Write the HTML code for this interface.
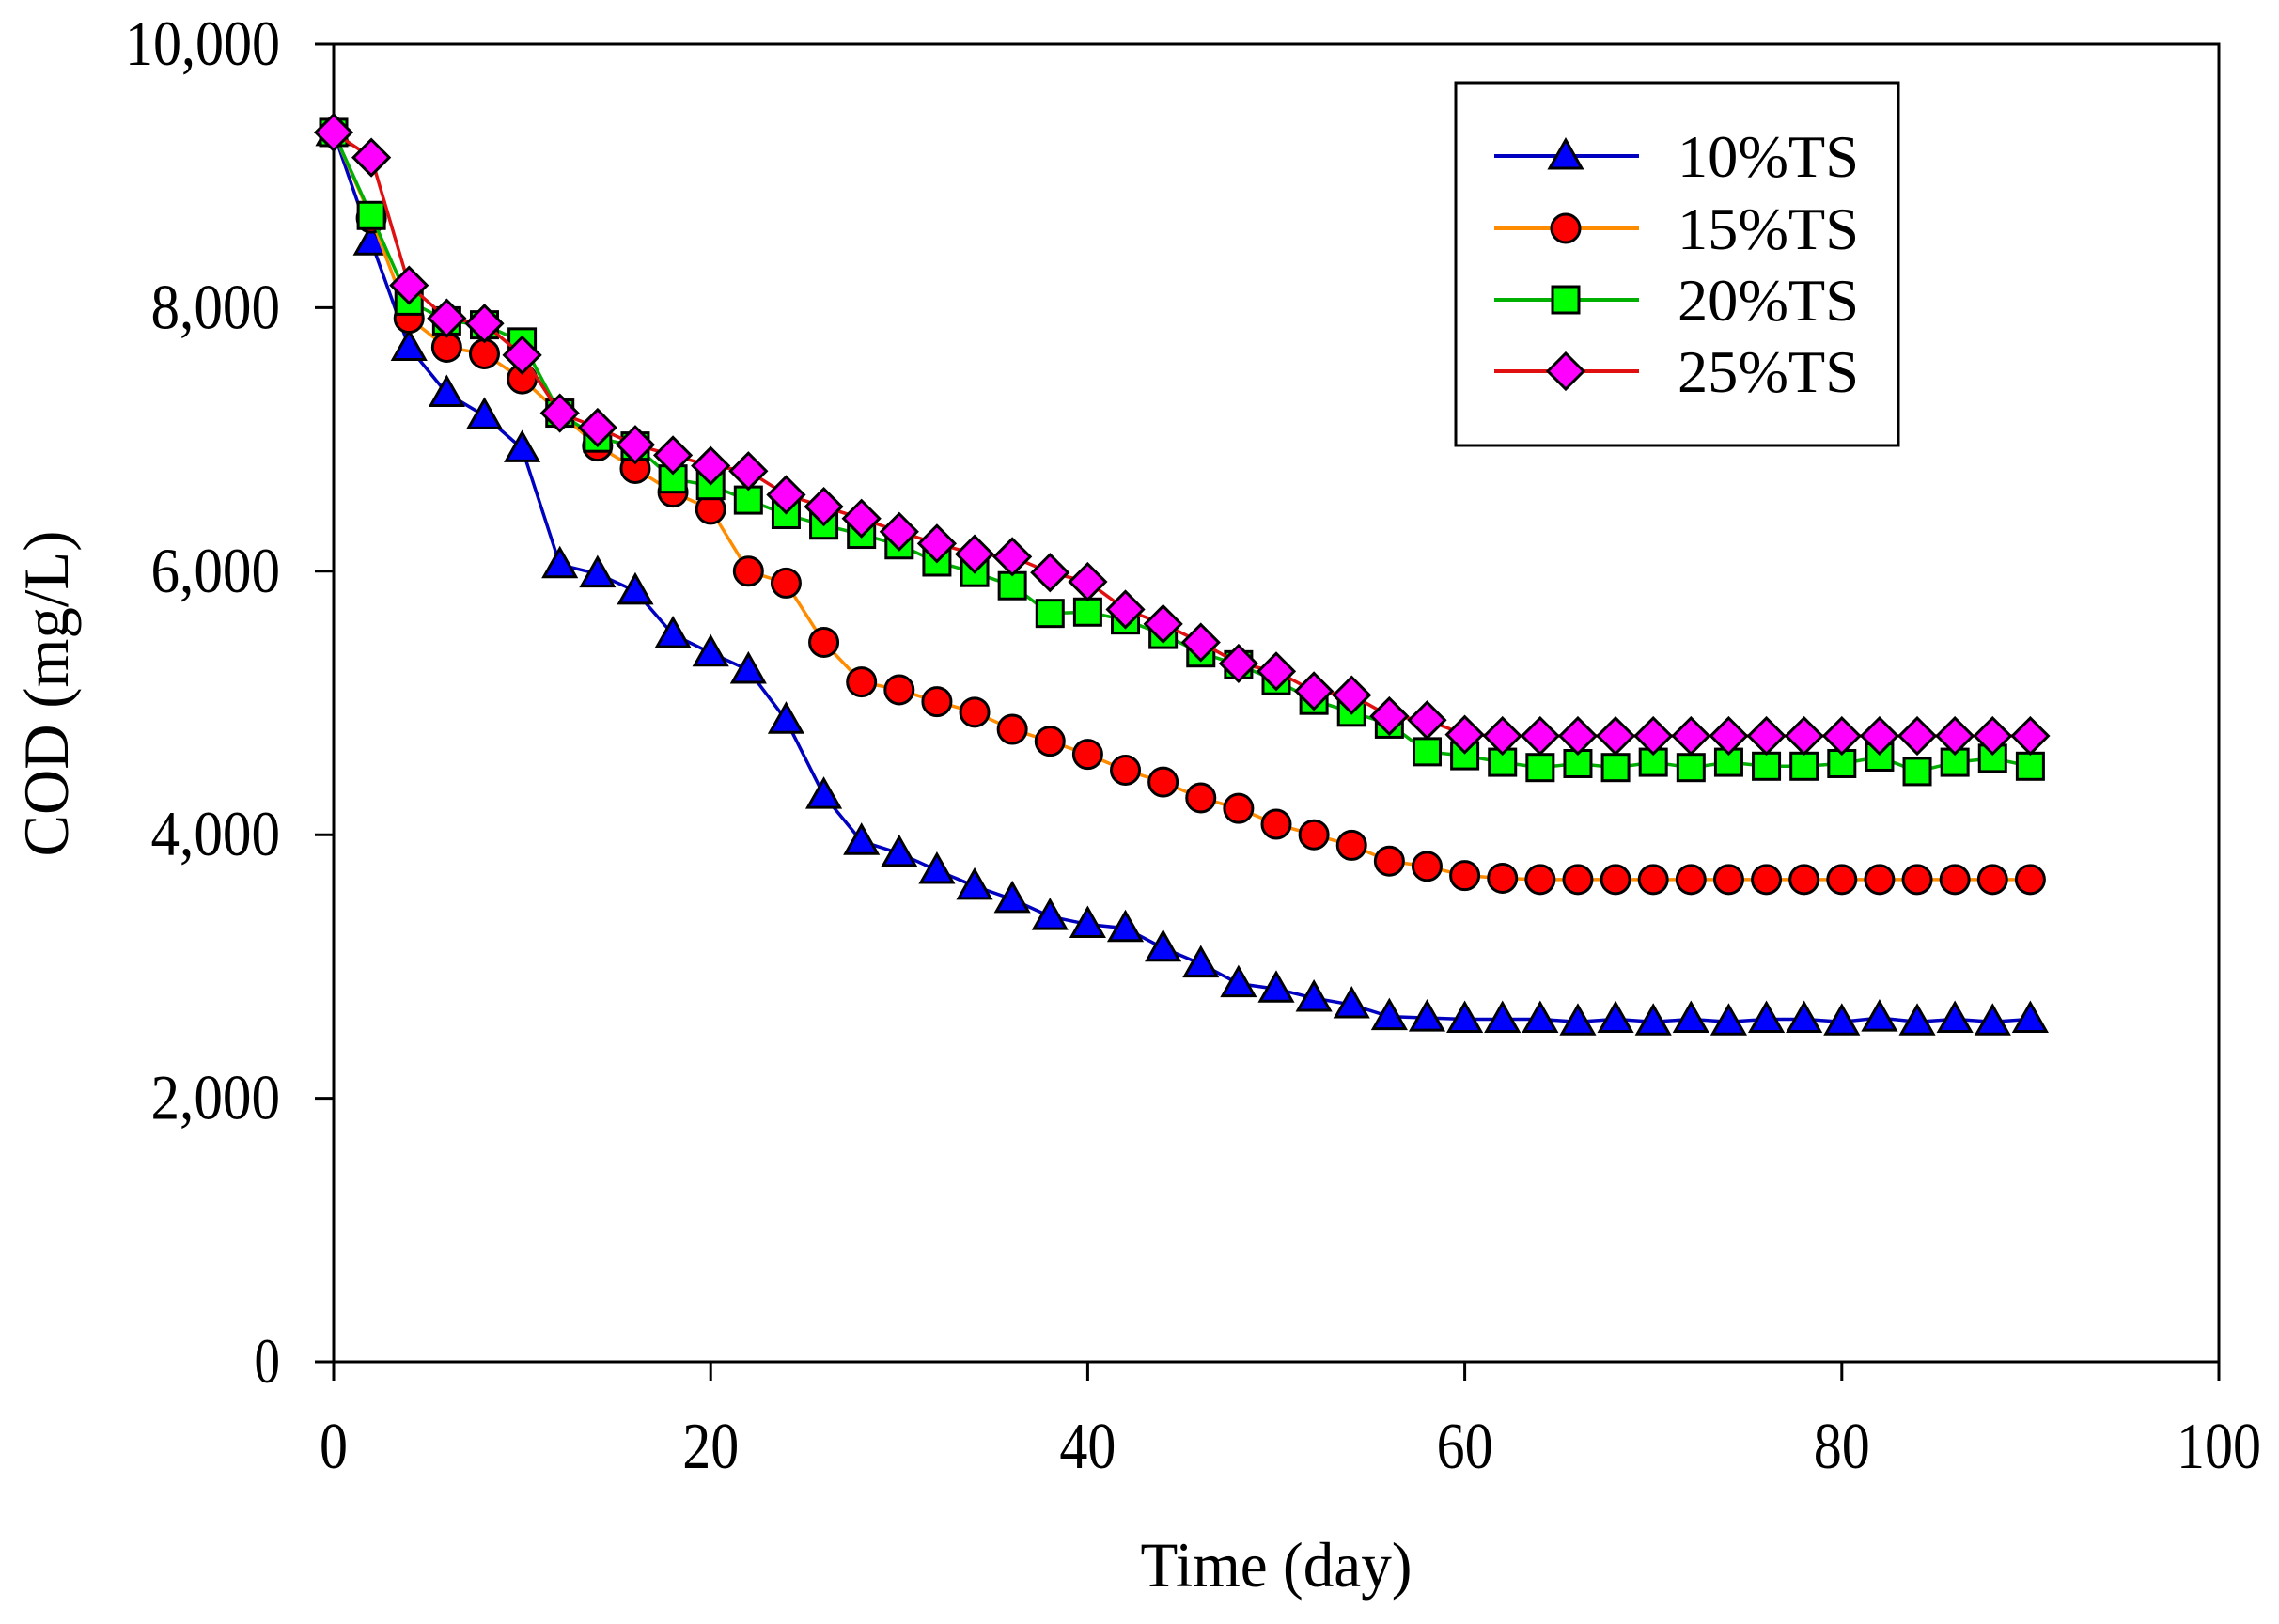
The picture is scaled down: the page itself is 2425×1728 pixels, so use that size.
<!DOCTYPE html>
<html><head><meta charset="utf-8"><style>
html,body{margin:0;padding:0;background:#fff;}
svg{display:block;font-family:"Liberation Serif",serif;}
</style></head><body>
<svg id="chart" width="2425" height="1728" viewBox="0 0 2425 1728" xmlns="http://www.w3.org/2000/svg">
<rect width="2425" height="1728" fill="#fff"/>
<g id="plot"></g>
</svg>
<script>
const days = [0,2,4,6,8,10,12,14,16,18,20,22,24,26,28,30,32,34,36,38,40,42,44,46,48,50,52,54,56,58,60,62,64,66,68,70,72,74,76,78,80,82,84,86,88,90];
const ts10 = [9330,8500,7700,7350,7180,6930,6050,5980,5850,5520,5380,5250,4870,4300,3950,3860,3730,3610,3510,3380,3320,3290,3140,3020,2870,2830,2760,2710,2620,2610,2600,2600,2600,2580,2600,2580,2600,2580,2600,2600,2580,2610,2580,2600,2580,2600];
const ts15 = [9330,8680,7920,7700,7650,7460,7200,6950,6780,6600,6470,6000,5910,5460,5160,5100,5010,4930,4800,4710,4610,4490,4400,4280,4200,4080,4000,3920,3800,3760,3690,3670,3660,3660,3660,3660,3660,3660,3660,3660,3660,3660,3660,3660,3660,3660];
const ts20 = [9330,8700,8050,7900,7870,7740,7200,7010,6950,6700,6650,6540,6430,6350,6280,6200,6070,5990,5890,5680,5690,5630,5520,5380,5290,5170,5020,4930,4840,4630,4600,4550,4510,4540,4510,4550,4510,4550,4520,4520,4540,4590,4480,4550,4580,4520];
const ts25 = [9330,9140,8170,7920,7880,7640,7200,7090,6960,6880,6800,6760,6580,6490,6400,6300,6210,6130,6110,5990,5920,5710,5600,5460,5300,5240,5090,5060,4900,4870,4760,4750,4750,4750,4750,4750,4750,4750,4750,4750,4750,4750,4750,4750,4750,4750];
const xTicks = [0,20,40,60,80,100];
const yTicks = [0,2000,4000,6000,8000,10000];
const yTickLabels = ["0","2,000","4,000","6,000","8,000","10,000"];
const seriesNames = ["10%TS","15%TS","20%TS","25%TS"];

const L=355, R=2361, T=47, B=1449;
const xs = d => L + (d/100)*(R-L);
const ys = v => B - (v/10000)*(B-T);
const NS="http://www.w3.org/2000/svg";
const g=document.getElementById('plot');
function mk(tag,attrs,parent){const e=document.createElementNS(NS,tag);for(const k in attrs)e.setAttribute(k,attrs[k]);(parent||g).appendChild(e);return e;}

let fr=mk('rect',{x:L,y:T,width:R-L,height:B-T,fill:'none',stroke:'#000','stroke-width':3});



xTicks.forEach(t=>{
  let tk=mk('line',{x1:xs(t),x2:xs(t),y1:B,y2:B+20,stroke:'#000','stroke-width':3});
  
  
  const s=String(t);
  let tx=mk('text',{x:xs(t),y:1562,'text-anchor':'middle','font-size':70,textLength:s.length*30,lengthAdjust:'spacingAndGlyphs'});
  tx.textContent=s;
  
  
});
yTicks.forEach((t,i)=>{
  let tk=mk('line',{x1:L-20,x2:L,y1:ys(t),y2:ys(t),stroke:'#000','stroke-width':3});
  
  
  const s=yTickLabels[i];
  let tx=mk('text',{x:298,y:ys(t)+22,'text-anchor':'end','font-size':68,textLength:s.length*27.5,lengthAdjust:'spacingAndGlyphs'});
  tx.textContent=s;
  
  
});
let xt=mk('text',{x:1358,y:1688,'text-anchor':'middle','font-size':68,textLength:289,lengthAdjust:'spacingAndGlyphs'});
xt.textContent='Time (day)';


let yt=mk('text',{x:0,y:0,'text-anchor':'middle','font-size':68,textLength:347,lengthAdjust:'spacingAndGlyphs',transform:'translate(72,738) rotate(-90)'});
yt.textContent='COD (mg/L)';



const lineColors=['#0000c0','#ff8c00','#00b000','#e01010'];
const fills=['#0000ff','#ff0000','#00ff00','#ff00ff'];
const data=[ts10,ts15,ts20,ts25];
function marker(type,x,y,fill,parent){
  let e;
  if(type===0){e=mk('polygon',{points:`${x},${y-17} ${x-17},${y+13} ${x+17},${y+13}`},parent);}
  else if(type===1){e=mk('circle',{cx:x,cy:y,r:15},parent);}
  else if(type===2){e=mk('rect',{x:x-14,y:y-14,width:28,height:28},parent);}
  else {e=mk('polygon',{points:`${x},${y-19} ${x+19},${y} ${x},${y+19} ${x-19},${y}`},parent);}
  e.setAttribute('fill',fill);e.setAttribute('stroke','#000');e.setAttribute('stroke-width',3);
  return e;
}
data.forEach((arr,si)=>{
  const sg=mk('g',{});
  
  
  let pl=mk('polyline',{points:arr.map((v,i)=>xs(days[i])+','+ys(v)).join(' '),fill:'none',stroke:lineColors[si],'stroke-width':3.5},sg);
  
  
  arr.forEach((v,i)=>{
    const m=marker(si,xs(days[i]),ys(v),fills[si],sg);
    
    
  });
});

const lg=mk('g',{});


mk('rect',{x:1549,y:88,width:471,height:386,fill:'#fff',stroke:'#000','stroke-width':3},lg);
const rowY=[166,243,319,395];
seriesNames.forEach((n,i)=>{
  const eg=mk('g',{},lg);
  
  
  mk('line',{x1:1590,x2:1744,y1:rowY[i],y2:rowY[i],stroke:lineColors[i],'stroke-width':4},eg);
  marker(i,1666,rowY[i],fills[i],eg);
  const t=mk('text',{x:1785,y:rowY[i]+22,'font-size':64,textLength:193,lengthAdjust:'spacingAndGlyphs'},eg);
  t.textContent=n;
});
</script>
</body></html>
